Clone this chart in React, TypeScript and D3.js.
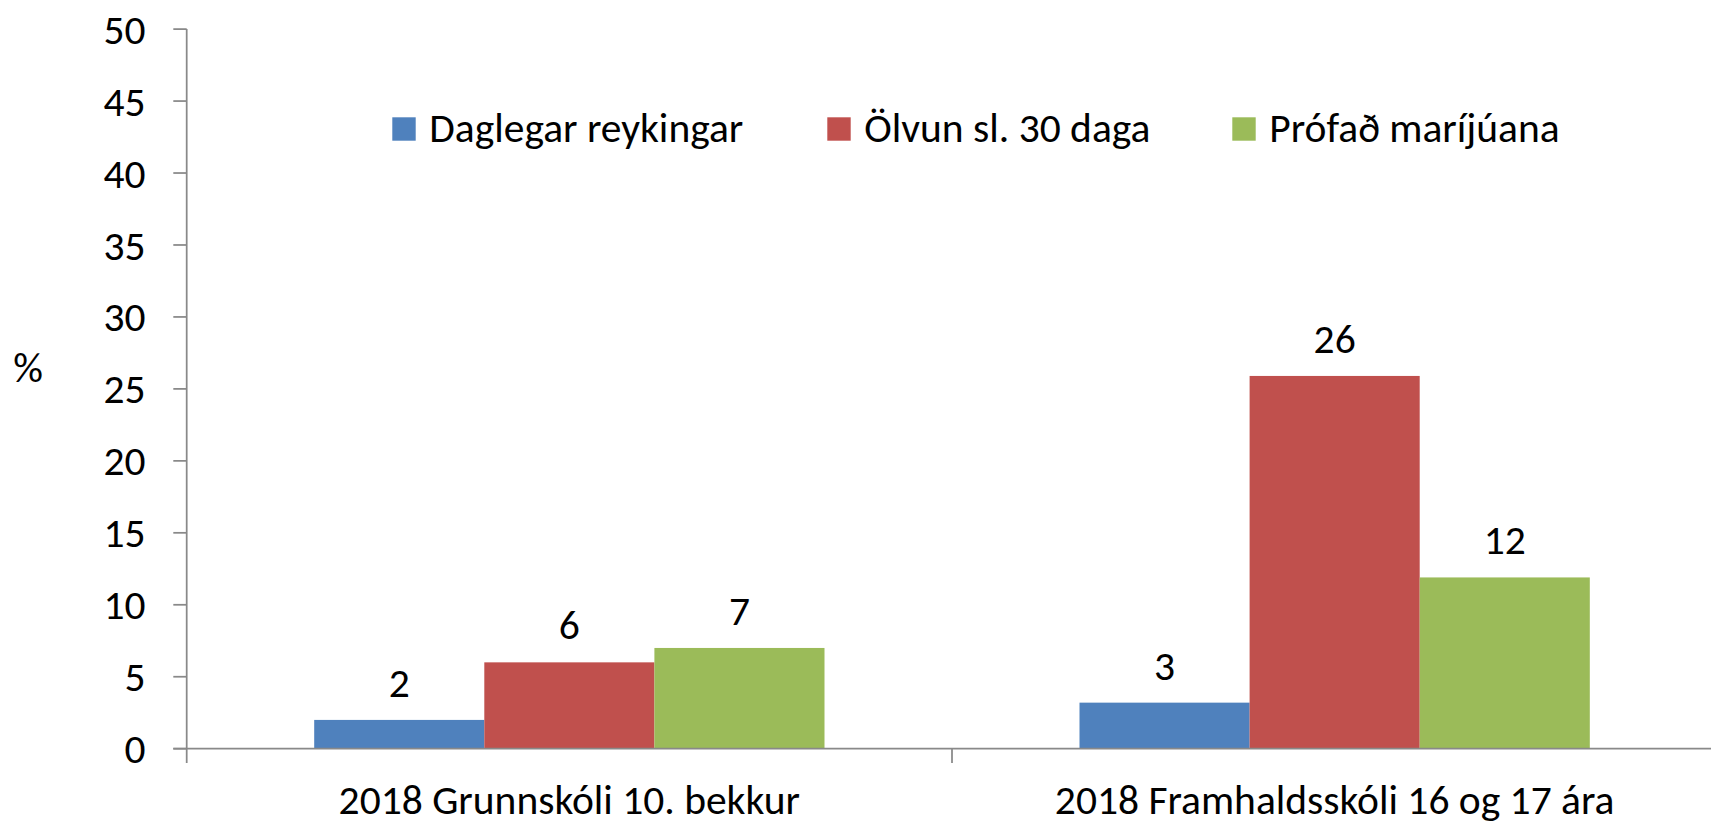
import React from "react";
import * as d3 from "d3";

const categories = ["2018 Grunnskóli 10. bekkur", "2018 Framhaldsskóli 16 og 17 ára"];
const seriesNames = ["Daglegar reykingar", "Ölvun sl. 30 daga", "Prófað maríjúana"];
const seriesColors = ["#4F81BD", "#C0504D", "#9BBB59"];
const daglegar = [2.0, 3.2];
const olvun = [6.0, 25.9];
const marijuana = [7.0, 11.9];
const dataLabels = [["2", "6", "7"], ["3", "26", "12"]];
const yTicks = [0, 5, 10, 15, 20, 25, 30, 35, 40, 45, 50];

const W = 1711;
const H = 823;
const FONT = "Carlito, Calibri, Lato, sans-serif";
const FS = 41.5;
const AXIS = "#898989";

export default function App() {
  const seriesValues = [daglegar, olvun, marijuana];
  const left = 186.7;
  const step = 765.3;
  const x0 = d3.scaleBand<string>().domain(categories).range([left, left + step * categories.length]).padding(0);
  const x1 = d3.scaleBand<string>().domain(seriesNames).range([127.5, step - 127.5]).padding(0);
  const y = d3.scaleLinear().domain([0, 50]).range([748.7, 29.1]);

  const legendX = [392.3, 827.3, 1232.3];

  return (
    <svg width={W} height={H} style={{ position: "absolute", left: 0, top: 0, background: "#fff" }} fontFamily={FONT}>
      <rect x={0} y={0} width={W} height={H} fill="#fff" />
      {/* bars */}
      {categories.map((c, ci) => (
        <g key={c} transform={`translate(${x0(c)},0)`}>
          {seriesNames.map((s, si) => {
            const v = seriesValues[si][ci];
            const bx = x1(s)!;
            const bw = x1.bandwidth();
            return (
              <g key={s}>
                <rect x={bx} y={y(v)} width={bw} height={y(0) - y(v)} fill={seriesColors[si]} />
                <text x={bx + bw / 2} y={y(v) - 23} textAnchor="middle" fontSize={FS} fill="#000">
                  {dataLabels[ci][si]}
                </text>
              </g>
            );
          })}
        </g>
      ))}
      {/* y axis */}
      <line x1={left} x2={left} y1={y(50)} y2={763} stroke={AXIS} strokeWidth={1.75} />
      {yTicks.map((t) => (
        <g key={t}>
          <line x1={173.3} x2={left} y1={y(t)} y2={y(t)} stroke={AXIS} strokeWidth={1.75} />
          <text x={145.5} y={y(t)} dy="0.35em" textAnchor="end" fontSize={FS} fill="#000">
            {t}
          </text>
        </g>
      ))}
      {/* x axis */}
      <line x1={173.3} x2={W} y1={y(0)} y2={y(0)} stroke={AXIS} strokeWidth={1.75} />
      {categories.map((c, i) => (
        <g key={c}>
          {i > 0 && <line x1={x0(c)} x2={x0(c)} y1={y(0)} y2={763} stroke={AXIS} strokeWidth={1.75} />}
          <text x={x0(c)! + x0.bandwidth() / 2} y={813.5} textAnchor="middle" fontSize={FS} fill="#000">
            {c}
          </text>
        </g>
      ))}
      {/* y title */}
      <text x={28} y={367} dy="0.35em" textAnchor="middle" fontSize={FS} fill="#000">%</text>
      {/* legend */}
      {seriesNames.map((s, i) => (
        <g key={s}>
          <rect x={legendX[i]} y={117.3} width={23.4} height={23.4} fill={seriesColors[i]} />
          <text x={legendX[i] + 37} y={141.5} fontSize={FS} fill="#000">{s}</text>
        </g>
      ))}
    </svg>
  );
}
